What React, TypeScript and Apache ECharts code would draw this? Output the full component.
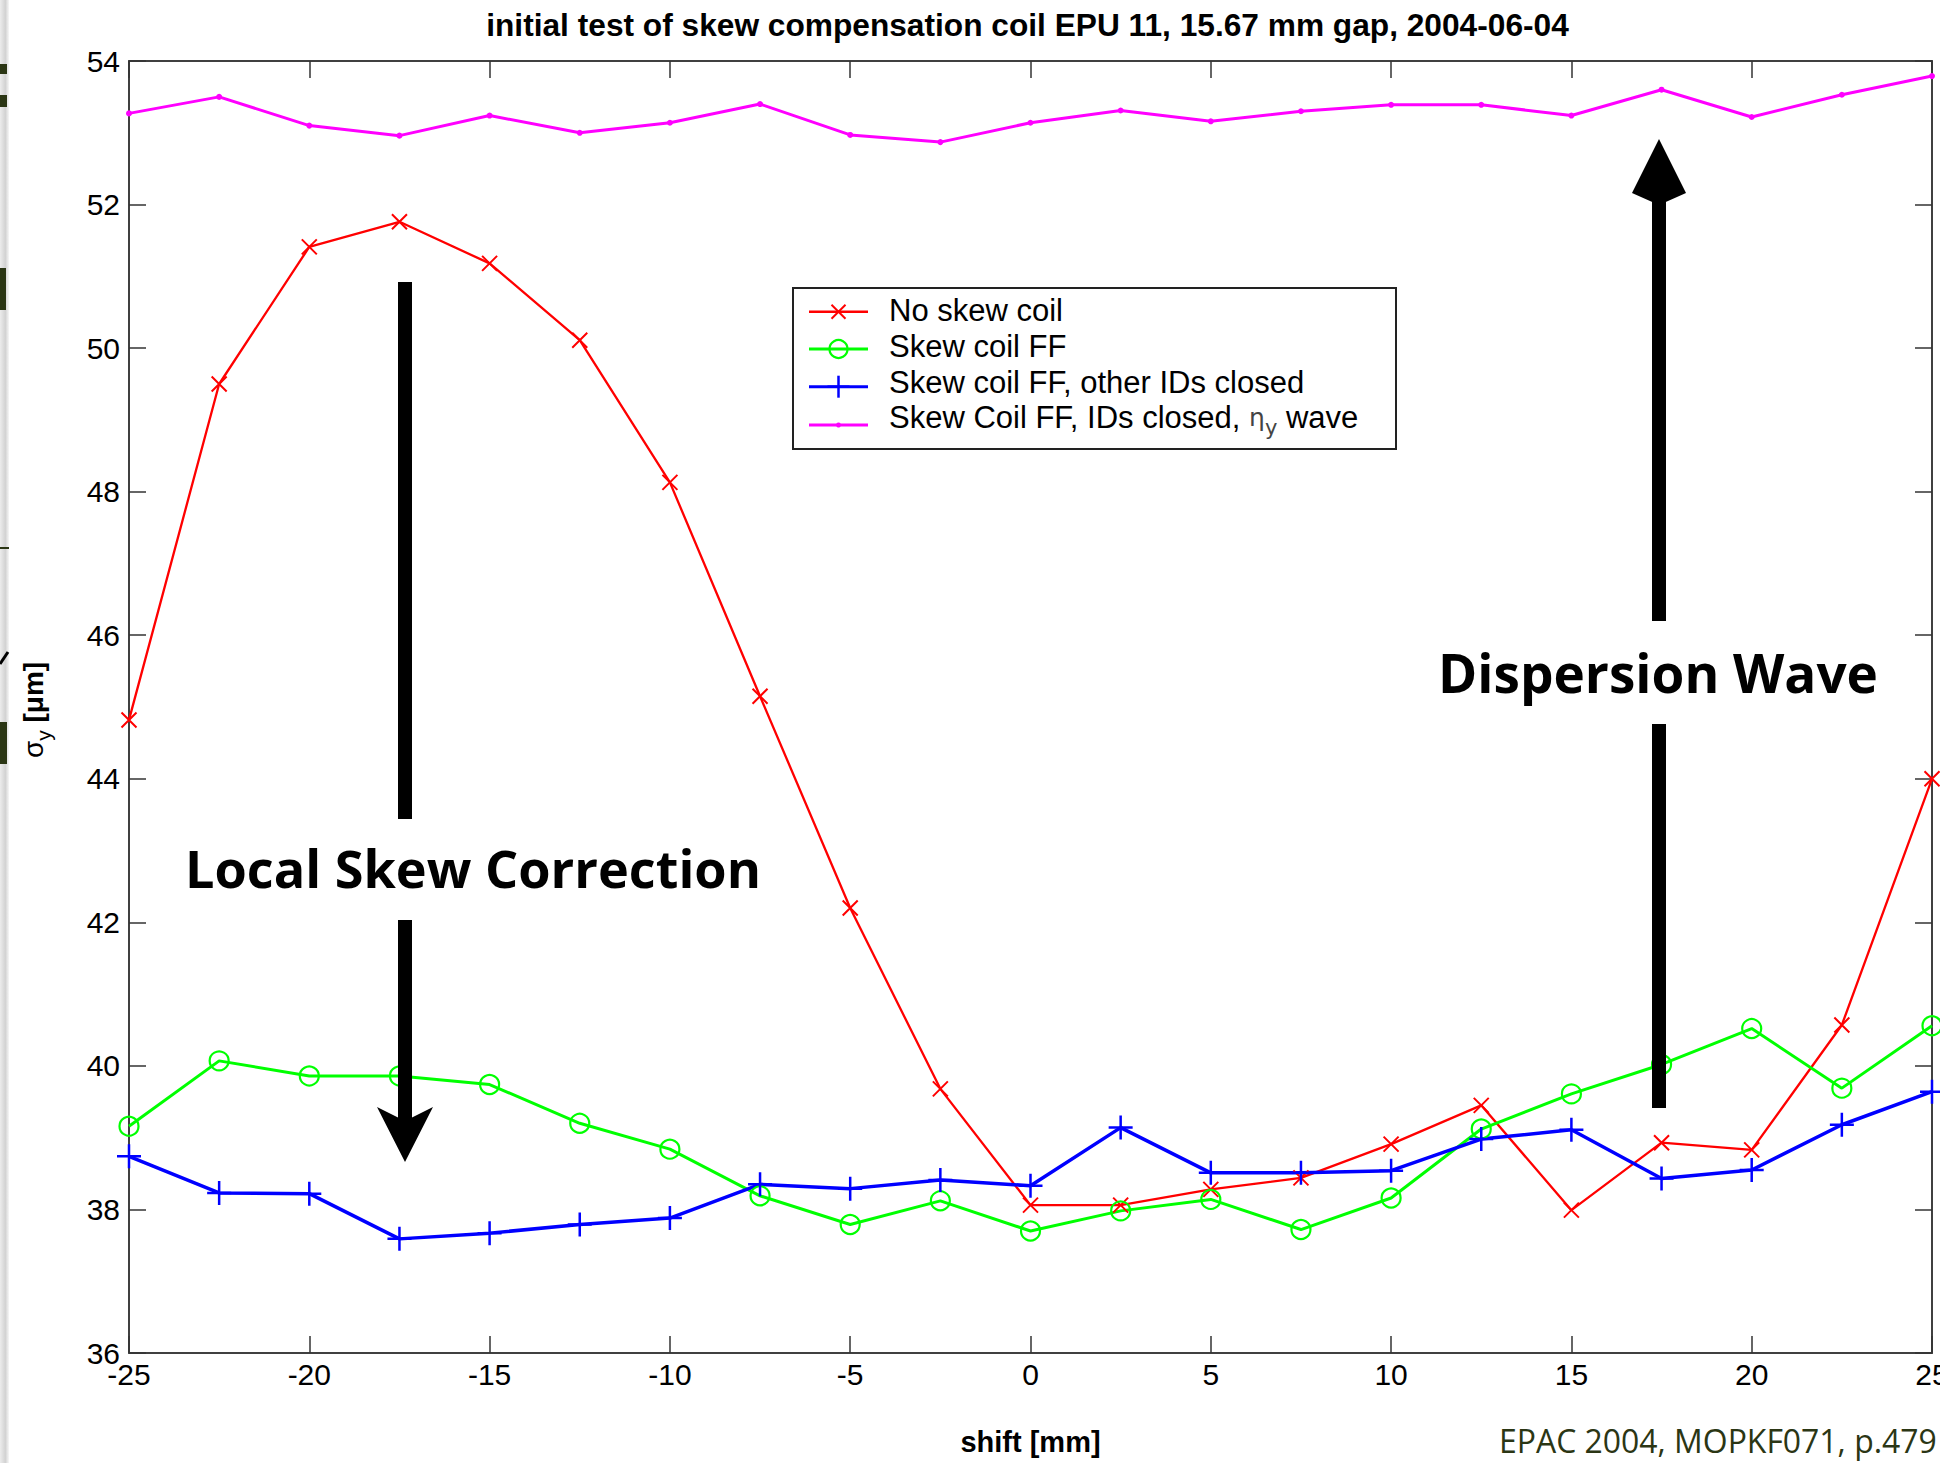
import React, { useEffect, useRef } from 'react';
import * as echarts from 'echarts';

// ---- data ----
const shift = [-25, -22.5, -20, -17.5, -15, -12.5, -10, -7.5, -5, -2.5, 0, 2.5, 5, 7.5, 10, 12.5, 15, 17.5, 20, 22.5, 25];
const noSkewCoil = [44.82, 49.5, 51.41, 51.76, 51.18, 50.11, 48.13, 45.15, 42.2, 39.68, 38.06, 38.06, 38.28, 38.44, 38.91, 39.45, 37.99, 38.93, 38.83, 40.57, 44.0];
const skewCoilFF = [39.16, 40.07, 39.86, 39.86, 39.74, 39.2, 38.84, 38.19, 37.79, 38.12, 37.7, 37.98, 38.14, 37.72, 38.16, 39.12, 39.61, 40.02, 40.52, 39.69, 40.56];
const skewCoilFFClosed = [38.74, 38.23, 38.22, 37.59, 37.67, 37.79, 37.88, 38.35, 38.29, 38.41, 38.33, 39.14, 38.51, 38.51, 38.54, 38.98, 39.11, 38.43, 38.55, 39.18, 39.64];
const etaWave = [53.27, 53.5, 53.1, 52.96, 53.24, 53.0, 53.14, 53.4, 52.97, 52.87, 53.14, 53.31, 53.16, 53.3, 53.39, 53.39, 53.24, 53.6, 53.22, 53.53, 53.79];

const seriesNames = [
  'No skew coil',
  'Skew coil FF',
  'Skew coil FF, other IDs closed',
  'Skew Coil FF, IDs closed, ηy wave',
];
const xRange = { min: -25, max: 25, step: 5 };
const yRange = { min: 36, max: 54, step: 2 };
const titleText = 'initial test of skew compensation coil EPU 11, 15.67 mm gap, 2004-06-04';
const xName = 'shift [mm]';
const noteLeft = 'Local Skew Correction';
const noteRight = 'Dispersion Wave';
const sourceText = 'EPAC 2004, MOPKF071, p.479';

const HELV = '"Liberation Sans", Arial, Helvetica, sans-serif';
const CALI = '"Open Sans", "Noto Sans", sans-serif';

const RED = '#ff0000';
const GREEN = '#00ff00';
const BLUE = '#0000ff';
const MAGENTA = '#ff00ff';

function fitFont(text: string, family: string, weight: string, width: number): number {
  const ctx = document.createElement('canvas').getContext('2d');
  if (!ctx) return 30;
  ctx.font = `${weight} 100px ${family}`;
  const w = ctx.measureText(text).width;
  return w > 0 ? (100 * width) / w : 30;
}

const pairs = (ys: number[]) => shift.map((x, i) => [x, ys[i]]);

export default function App() {
  const ref = useRef<HTMLDivElement | null>(null);

  useEffect(() => {
    if (!ref.current) return;
    const chart = echarts.init(ref.current, undefined, { renderer: 'svg' });

    const titleSize = fitFont(titleText, HELV, 'bold', 1083);
    const leftNoteSize = fitFont(noteLeft, CALI, 'bold', 576);
    const rightNoteSize = fitFont(noteRight, CALI, 'bold', 440);
    const srcSize = fitFont(sourceText, CALI, 'normal', 438);

    const frameLine = { show: true, onZero: false, lineStyle: { color: '#404040', width: 2 } };
    const innerTick = { show: true, inside: true, length: 17, lineStyle: { color: '#333', width: 1.5 } };

    const txt = (
      text: string,
      x: number,
      y: number,
      size: number,
      family: string,
      weight: string,
      align: string,
      color = '#000',
      z = 100
    ) => ({
      type: 'text',
      z,
      silent: true,
      style: {
        text,
        x,
        y,
        fill: color,
        fontSize: size,
        fontFamily: family,
        fontWeight: weight,
        align,
        verticalAlign: 'middle',
        textAlign: align,
        textVerticalAlign: 'middle',
      },
    });
    const bar = (cx: number, y0: number, y1: number) => ({
      type: 'rect',
      z: 100,
      silent: true,
      shape: { x: cx - 7, y: y0, width: 14, height: y1 - y0 },
      style: { fill: '#000' },
    });
    const head = (pts: number[][]) => ({
      type: 'polygon',
      z: 100,
      silent: true,
      shape: { points: pts },
      style: { fill: '#000' },
    });
    const seg = (x1: number, y1: number, x2: number, y2: number, color: string, w: number) => ({
      type: 'line',
      silent: true,
      z: 110,
      shape: { x1, y1, x2, y2 },
      style: { stroke: color, lineWidth: w },
    });
    const olive = '#2b3614';
    const frag = (x: number, y: number, w: number, h: number) => ({
      type: 'rect',
      silent: true,
      z: 101,
      shape: { x, y, width: w, height: h },
      style: { fill: olive },
    });

    // ---- legend drawn by hand (box, samples, texts) ----
    const lgX0 = 809;
    const lgX1 = 868;
    const lgMid = (lgX0 + lgX1) / 2;
    const lineY = [311.7, 349, 386.7, 425];
    const textY = [310, 346.5, 382, 417];
    const textX = 889;
    const lgFont = 31;
    const legendEls: any[] = [
      {
        type: 'rect',
        silent: true,
        z: 105,
        shape: { x: 793, y: 288, width: 603, height: 161 },
        style: { fill: '#fff', stroke: '#222', lineWidth: 2 },
      },
    ];
    const sampleColors = [RED, GREEN, BLUE, MAGENTA];
    sampleColors.forEach((c, i) => {
      legendEls.push(seg(lgX0, lineY[i], lgX1, lineY[i], c, i === 0 ? 2.5 : 3));
    });
    // markers
    legendEls.push(seg(lgMid - 7, lineY[0] - 7, lgMid + 7, lineY[0] + 7, RED, 2));
    legendEls.push(seg(lgMid + 7, lineY[0] - 7, lgMid - 7, lineY[0] + 7, RED, 2));
    legendEls.push({
      type: 'circle',
      silent: true,
      z: 111,
      shape: { cx: lgMid, cy: lineY[1], r: 9 },
      style: { fill: 'none', stroke: GREEN, lineWidth: 2.2 },
    });
    legendEls.push(seg(lgMid, lineY[2] - 11, lgMid, lineY[2] + 11, BLUE, 2.5));
    legendEls.push(seg(lgMid - 11, lineY[2], lgMid + 11, lineY[2], BLUE, 2.5));
    legendEls.push({
      type: 'circle',
      silent: true,
      z: 111,
      shape: { cx: lgMid, cy: lineY[3], r: 2.5 },
      style: { fill: MAGENTA },
    });
    for (let i = 0; i < 3; i++) {
      legendEls.push(txt(seriesNames[i], textX, textY[i], lgFont, HELV, 'normal', 'left', '#000', 112));
    }
    legendEls.push({
      type: 'text',
      silent: true,
      z: 112,
      style: {
        text: '{t|Skew Coil FF, IDs closed, }{e|η}{s|y}{t| wave}',
        x: textX,
        y: textY[3],
        align: 'left',
        verticalAlign: 'middle',
        textAlign: 'left',
        textVerticalAlign: 'middle',
        rich: {
          t: { fontSize: lgFont, fontFamily: HELV, fill: '#000', lineHeight: 30 },
          e: { fontSize: 25, fontFamily: '"DejaVu Sans", sans-serif', fill: '#444', lineHeight: 30 },
          s: { fontSize: 21, fontFamily: '"DejaVu Sans", sans-serif', fill: '#444', lineHeight: 10, padding: [22, 0, 0, 0] },
        },
      },
    });

    const option: any = {
      animation: false,
      backgroundColor: '#fff',
      grid: { left: 129, right: 8, top: 61, bottom: 110, containLabel: false, outerBoundsMode: 'none' },
      xAxis: [
        {
          type: 'value',
          position: 'bottom',
          min: xRange.min,
          max: xRange.max,
          interval: xRange.step,
          axisLine: frameLine,
          axisTick: innerTick,
          splitLine: { show: false },
          axisLabel: { show: true, margin: 6, color: '#000', fontSize: 30, fontFamily: HELV },
          name: xName,
          nameLocation: 'middle',
          nameGap: 74,
          nameTextStyle: { color: '#000', fontSize: 29, fontWeight: 'bold', fontFamily: HELV },
        },
        {
          type: 'value',
          position: 'top',
          min: xRange.min,
          max: xRange.max,
          interval: xRange.step,
          axisLine: frameLine,
          axisTick: innerTick,
          splitLine: { show: false },
          axisLabel: { show: false },
        },
      ],
      yAxis: [
        {
          type: 'value',
          position: 'left',
          min: yRange.min,
          max: yRange.max,
          interval: yRange.step,
          axisLine: frameLine,
          axisTick: innerTick,
          splitLine: { show: false },
          axisLabel: { show: true, margin: 9, color: '#000', fontSize: 30, fontFamily: HELV },
        },
        {
          type: 'value',
          position: 'right',
          min: yRange.min,
          max: yRange.max,
          interval: yRange.step,
          axisLine: frameLine,
          axisTick: innerTick,
          splitLine: { show: false },
          axisLabel: { show: false },
        },
      ],
      legend: { show: false },
      series: [
        {
          name: seriesNames[0],
          type: 'line',
          data: pairs(noSkewCoil),
          symbol: 'path://M0,0L10,10M10,0L0,10',
          symbolSize: 15,
          lineStyle: { color: RED, width: 2.3 },
          itemStyle: { color: RED, borderColor: RED, borderWidth: 2 },
          emphasis: { disabled: true },
          silent: true,
        },
        {
          name: seriesNames[1],
          type: 'line',
          data: pairs(skewCoilFF),
          symbol: 'circle',
          symbolSize: 19,
          lineStyle: { color: GREEN, width: 3 },
          itemStyle: { color: 'rgba(0,0,0,0)', borderColor: GREEN, borderWidth: 2.2 },
          emphasis: { disabled: true },
          silent: true,
        },
        {
          name: seriesNames[2],
          type: 'line',
          data: pairs(skewCoilFFClosed),
          symbol: 'path://M5,0L5,10M0,5L10,5',
          symbolSize: 24,
          lineStyle: { color: BLUE, width: 3.5 },
          itemStyle: { color: BLUE, borderColor: BLUE, borderWidth: 2.5 },
          emphasis: { disabled: true },
          silent: true,
        },
        {
          name: seriesNames[3],
          type: 'line',
          data: pairs(etaWave),
          symbol: 'circle',
          symbolSize: 6,
          lineStyle: { color: MAGENTA, width: 3 },
          itemStyle: { color: MAGENTA },
          emphasis: { disabled: true },
          silent: true,
        },
      ],
      graphic: [
        // slide edge shadow on the left
        {
          type: 'rect',
          silent: true,
          z: 100,
          shape: { x: 0, y: 0, width: 9, height: 1463 },
          style: {
            fill: new echarts.graphic.LinearGradient(0, 0, 1, 0, [
              { offset: 0, color: '#ececec' },
              { offset: 0.6, color: '#d2d2d2' },
              { offset: 1, color: '#f7f7f7' },
            ]),
          },
        },
        frag(0, 64, 7, 10),
        frag(0, 95, 7, 12),
        frag(0, 268, 6, 42),
        frag(0, 547, 9, 2),
        frag(0, 722, 7, 42),
        {
          type: 'line',
          silent: true,
          z: 101,
          shape: { x1: 0, y1: 664, x2: 8, y2: 652 },
          style: { stroke: '#000', lineWidth: 3 },
        },
        // title
        txt(titleText, 1027.5, 25, titleSize, HELV, 'bold', 'center'),
        // y axis name (rotated, with subscript)
        {
          type: 'group',
          x: 33,
          y: 710,
          rotation: Math.PI / 2,
          silent: true,
          children: [
            {
              type: 'text',
              style: {
                text: '{a|σ}{b|y}{c| [μm]}',
                align: 'center',
                verticalAlign: 'middle',
                textAlign: 'center',
                textVerticalAlign: 'middle',
                rich: {
                  a: { fontSize: 28, fontFamily: HELV, fill: '#000', lineHeight: 30 },
                  b: { fontSize: 21, fontFamily: HELV, fill: '#000', lineHeight: 10, padding: [20, 0, 0, 0] },
                  c: { fontSize: 28, fontFamily: HELV, fontWeight: 'bold', fill: '#000', lineHeight: 30 },
                },
              },
            },
          ],
        },
        // legend
        ...legendEls,
        // left annotation arrow
        bar(405, 282, 819),
        txt(noteLeft, 185, 867, leftNoteSize, CALI, 'bold', 'left'),
        bar(405, 920, 1121),
        head([[377, 1107], [405, 1121], [433, 1107], [405, 1162]]),
        // right annotation arrow
        head([[1659, 139], [1686, 193], [1659, 205], [1632, 193]]),
        bar(1659, 200, 621),
        txt(noteRight, 1658, 672, rightNoteSize, CALI, 'bold', 'center'),
        bar(1659, 724, 1108),
        // source note
        txt(sourceText, 1499, 1440, srcSize, CALI, 'normal', 'left', olive),
      ],
    };

    chart.setOption(option);
    return () => chart.dispose();
  }, []);

  return (
    <div
      ref={ref}
      style={{ position: 'absolute', left: 0, top: 0, width: 1940, height: 1463, background: '#fff' }}
    />
  );
}
